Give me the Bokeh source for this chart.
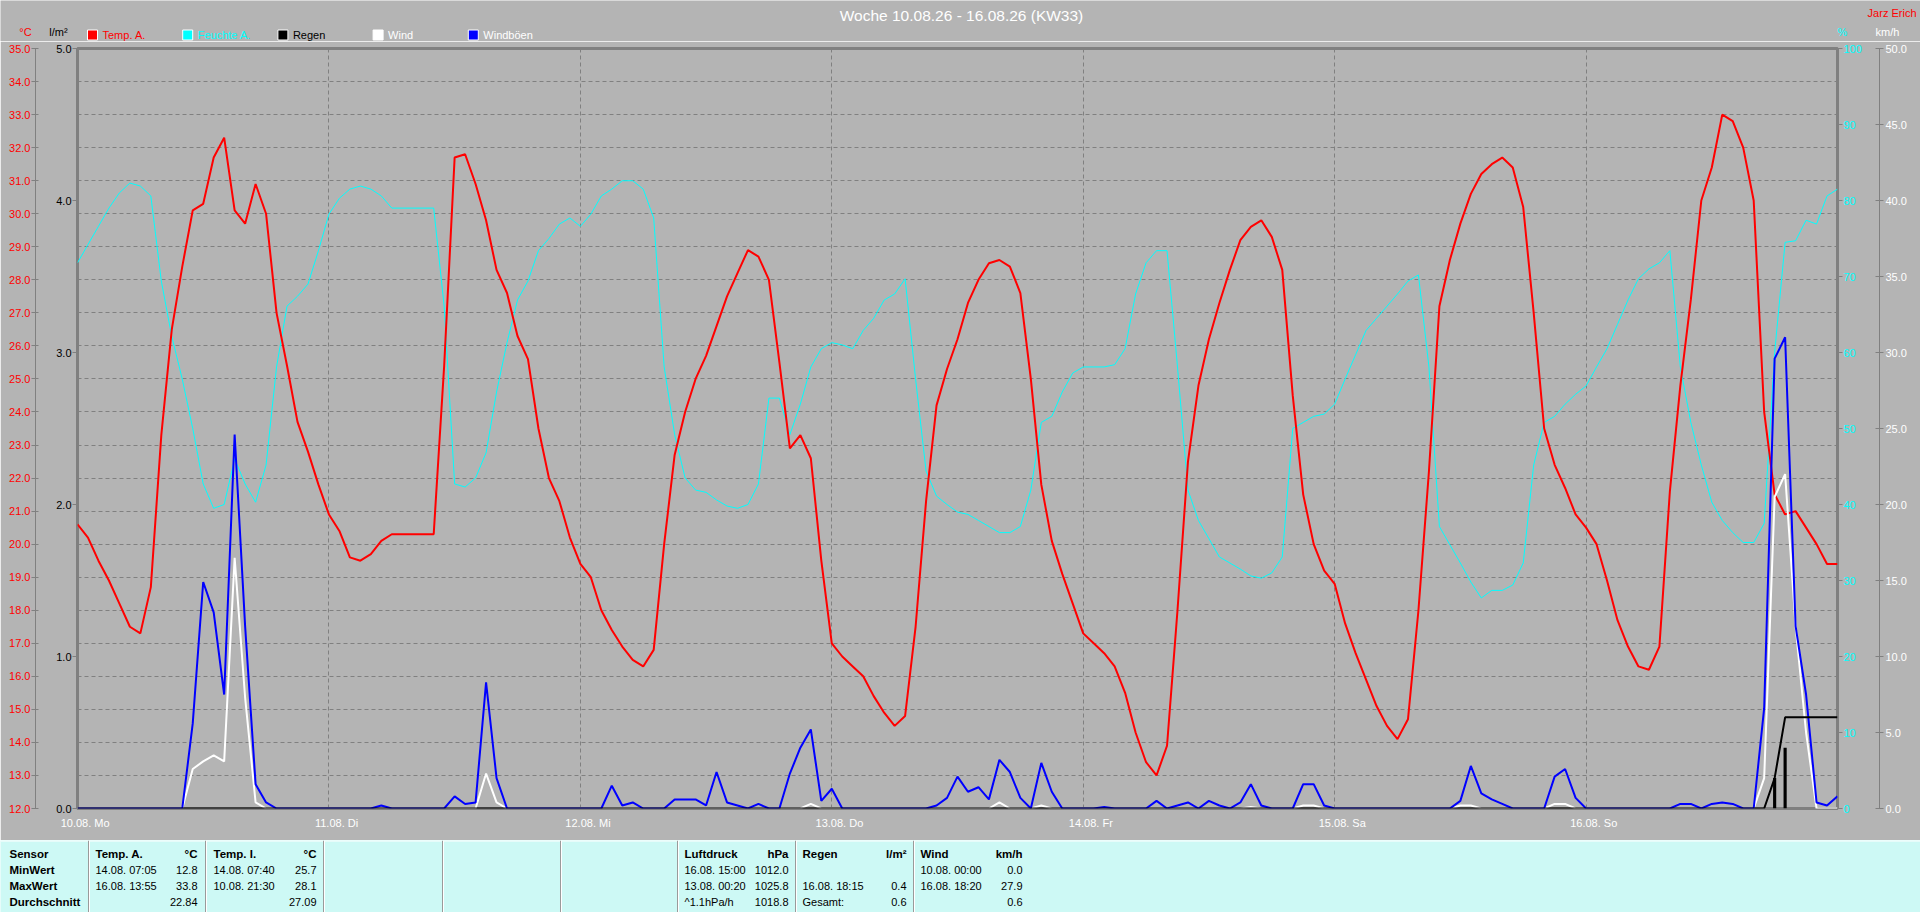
from bokeh.plotting import figure
from bokeh.models import (Range1d, LinearAxis, FixedTicker, PrintfTickFormatter, Grid, ColumnDataSource)
from bokeh.layouts import column
from bokeh.core.properties import value
from bokeh.embed import file_html
from bokeh.resources import INLINE

# ---------------- data ----------------
hours = list(range(169))  # hours since 10.08. 00:00

temp_a = [
    20.6, 20.2, 19.5, 18.9, 18.2, 17.5, 17.3, 18.7, 23.3, 26.5, 28.4, 30.1, 30.3, 31.7, 32.3, 30.1, 29.7, 30.9, 30.0, 27.0, 25.4, 23.7, 22.8, 21.8,
    20.9, 20.4, 19.6, 19.5, 19.7, 20.1, 20.3, 20.3, 20.3, 20.3, 20.3, 25.4, 31.7, 31.8, 30.9, 29.8, 28.3, 27.6, 26.3, 25.6, 23.5, 22.0, 21.3, 20.2,
    19.4, 19.0, 18.0, 17.4, 16.9, 16.5, 16.3, 16.8, 20.0, 22.7, 24.0, 25.0, 25.7, 26.6, 27.5, 28.2, 28.9, 28.7, 28.0, 25.5, 22.9, 23.3, 22.6, 19.5,
    17.0, 16.6, 16.3, 16.0, 15.4, 14.9, 14.5, 14.8, 17.5, 21.3, 24.2, 25.3, 26.2, 27.3, 28.0, 28.5, 28.6, 28.4, 27.6, 25.0, 21.8, 20.1, 19.1, 18.2,
    17.3, 17.0, 16.7, 16.3, 15.5, 14.3, 13.4, 13.0, 13.9, 18.0, 22.5, 24.8, 26.2, 27.3, 28.3, 29.2, 29.6, 29.8, 29.3, 28.3, 24.5, 21.5, 20.0, 19.2,
    18.8, 17.6, 16.7, 15.9, 15.1, 14.5, 14.1, 14.7, 18.0, 22.2, 27.2, 28.6, 29.7, 30.6, 31.2, 31.5, 31.7, 31.4, 30.2, 27.0, 23.5, 22.4, 21.7, 20.9,
    20.5, 20.0, 18.9, 17.7, 16.9, 16.3, 16.2, 16.9, 21.6, 24.8, 27.4, 30.4, 31.4, 33.0, 32.8, 32.0, 30.4, 24.0, 21.5, 20.9, 21.0, 20.5, 20.0, 19.4, 19.4,
]

feuchte_a = [
    71.8, 74.2, 76.6, 79.0, 81.0, 82.3, 81.9, 80.6, 69.4, 62.1, 56.5, 50.0, 42.7, 39.5, 40.0, 46.0, 42.7, 40.3, 45.2, 58.1, 66.1, 67.4, 69.0, 73.4,
    78.2, 80.3, 81.5, 81.9, 81.5, 80.6, 79.0, 79.0, 79.0, 79.0, 79.0, 66.1, 42.7, 42.3, 43.5, 46.8, 54.8, 61.3, 66.9, 69.4, 73.4, 75.0, 76.9, 77.7,
    76.6, 78.2, 80.6, 81.5, 82.6, 82.6, 81.5, 77.7, 58.1, 49.2, 43.5, 41.9, 41.6, 40.6, 39.8, 39.5, 40.0, 42.7, 54.0, 54.0, 49.2, 53.2, 58.1, 60.5,
    61.3, 61.0, 60.5, 62.9, 64.5, 66.9, 67.7, 69.7, 56.5, 44.4, 41.1, 40.0, 39.0, 38.7, 37.9, 37.1, 36.3, 36.3, 37.1, 41.9, 50.8, 51.6, 54.8, 57.3,
    58.1, 58.1, 58.1, 58.4, 60.5, 67.7, 71.8, 73.4, 73.4, 58.1, 41.9, 37.9, 35.5, 33.1, 32.3, 31.5, 30.6, 30.3, 31.0, 33.1, 50.0, 50.8, 51.6, 51.9,
    53.2, 56.5, 59.7, 62.9, 64.5, 66.1, 67.7, 69.4, 70.2, 58.1, 37.1, 34.7, 32.3, 29.8, 27.7, 28.7, 28.7, 29.4, 32.3, 45.2, 50.8, 51.6, 53.2, 54.5,
    55.6, 58.1, 60.5, 63.7, 66.9, 69.7, 71.0, 71.8, 73.4, 58.1, 50.8, 45.2, 40.3, 37.9, 36.3, 35.0, 35.0, 37.5, 60.0, 74.5, 74.7, 77.4, 76.9, 80.6, 81.5,
]

wind = [
    0, 0, 0, 0, 0, 0, 0, 0, 0, 0, 0, 2.6, 3.1, 3.5, 3.1, 16.5, 7.3, 0.4, 0, 0, 0, 0, 0, 0,
    0, 0, 0, 0, 0, 0, 0, 0, 0, 0, 0, 0, 0, 0, 0, 2.3, 0.4, 0, 0, 0, 0, 0, 0, 0,
    0, 0, 0, 0, 0, 0, 0, 0, 0, 0, 0, 0, 0, 0, 0, 0, 0, 0, 0, 0, 0, 0, 0.3, 0,
    0, 0, 0, 0, 0, 0, 0, 0, 0, 0, 0, 0, 0, 0, 0, 0, 0.4, 0, 0, 0, 0.2, 0, 0, 0,
    0, 0, 0, 0, 0, 0, 0, 0, 0, 0, 0, 0, 0, 0, 0, 0, 0.1, 0, 0, 0, 0, 0.2, 0.2, 0,
    0, 0, 0, 0, 0, 0, 0, 0, 0, 0, 0, 0, 0.2, 0.2, 0, 0, 0, 0, 0, 0, 0, 0.3, 0.3, 0,
    0, 0, 0, 0, 0, 0, 0, 0, 0, 0, 0, 0, 0, 0, 0, 0, 0, 2.0, 20.5, 22.0, 12.0, 5.0, 0, 0, 0,
]

windboeen = [
    0, 0, 0, 0, 0, 0, 0, 0, 0, 0, 0, 5.6, 14.9, 12.9, 7.5, 24.6, 12.0, 1.6, 0.4, 0, 0, 0, 0, 0,
    0, 0, 0, 0, 0, 0.2, 0, 0, 0, 0, 0, 0, 0.8, 0.3, 0.4, 8.3, 2.0, 0, 0, 0, 0, 0, 0, 0,
    0, 0, 0, 1.5, 0.2, 0.4, 0, 0, 0, 0.6, 0.6, 0.6, 0.2, 2.4, 0.4, 0.2, 0, 0.3, 0, 0, 2.3, 4.0, 5.2, 0.5,
    1.3, 0, 0, 0, 0, 0, 0, 0, 0, 0, 0.2, 0.7, 2.1, 1.1, 1.4, 0.6, 3.2, 2.4, 0.7, 0, 3.0, 1.1, 0, 0,
    0, 0, 0.1, 0, 0, 0, 0, 0.5, 0, 0.2, 0.4, 0, 0.5, 0.2, 0, 0.4, 1.6, 0.2, 0, 0, 0, 1.6, 1.6, 0.2,
    0, 0, 0, 0, 0, 0, 0, 0, 0, 0, 0, 0, 0.5, 2.8, 1.0, 0.6, 0.3, 0, 0, 0, 0, 2.1, 2.6, 0.7,
    0, 0, 0, 0, 0, 0, 0, 0, 0, 0.3, 0.3, 0, 0.3, 0.4, 0.3, 0, 0, 6.6, 29.6, 31.0, 12.0, 7.5, 0.4, 0.2, 0.8,
]

regen_t = [162, 163]          # rain per interval (l/m²)
regen_mm = [0.2, 0.4]
regen_sum_t = [0, 161, 162, 163, 168]   # accumulated rain (l/m²)
regen_sum = [0.0, 0.0, 0.2, 0.6, 0.6]

day_starts = [0, 24, 48, 72, 96, 120, 144]
day_labels = ["10.08.  Mo", "11.08.  Di", "12.08.  Mi", "13.08.  Do", "14.08.  Fr", "15.08.  Sa", "16.08.  So"]
temp_ticks = list(range(12, 36))
regen_ticks = [0, 1, 2, 3, 4, 5]
feuchte_ticks = [0, 10, 20, 30, 40, 50, 60, 70, 80, 90, 100]
wind_ticks = [0, 5, 10, 15, 20, 25, 30, 35, 40, 45, 50]

legend_names = ["Temp. A.", "Feuchte A.", "Regen", "Wind", "Windböen"]
legend_fill = ["#ff0000", "#00ffff", "#000000", "#ffffff", "#0000ff"]
legend_text = ["#ff0000", "#00ffff", "#000000", "#ffffff", "#ffffff"]

title_text = "Woche 10.08.26 - 16.08.26 (KW33)"
author_text = "Jarz Erich"
unit_texts = ["°C", "l/m²", "%", "km/h"]
unit_colors = ["#ff0000", "#000000", "#00ffff", "#ffffff"]

tab_row_labels = ["Sensor", "MinWert", "MaxWert", "Durchschnitt"]
tab_headers = ["Temp. A.", "Temp. I.", "Luftdruck", "Regen", "Wind"]
tab_units = ["°C", "°C", "hPa", "l/m²", "km/h"]
tab_min_when = ["14.08.  07:05", "14.08.  07:40", "16.08.  15:00", "", "10.08.  00:00"]
tab_min_val = ["12.8", "25.7", "1012.0", "", "0.0"]
tab_max_when = ["16.08.  13:55", "10.08.  21:30", "13.08.  00:20", "16.08.  18:15", "16.08.  18:20"]
tab_max_val = ["33.8", "28.1", "1025.8", "0.4", "27.9"]
tab_avg_when = ["", "", "^1.1hPa/h", "Gesamt:", ""]
tab_avg_val = ["22.84", "27.09", "1018.8", "0.6", "0.6"]

# ---------------- style / layout ----------------
FONT = "Liberation Sans"
BG = "#b4b4b4"
GRID = "#808080"
CYAN_BG = "#cdf9f5"
W = 1920
H_HEAD, H_MAIN, H_TAB = 41, 799, 72
FL, FR = 77, 1837            # frame left / right (px)
B_TOP, B_BOT = 7, 32         # main figure borders (frame height 760)
LEG_Y = 34.5

# ---------------- header (title, units, legend) ----------------
h = figure(width=W, height=H_HEAD, x_range=Range1d(0, W), y_range=Range1d(H_HEAD, 0),
           x_axis_type=None, y_axis_type=None, output_backend="svg", toolbar_location=None,
           min_border=0, frame_align=False, background_fill_color=BG, border_fill_color=BG,
           outline_line_color=None)

h.text(x=[961], y=[15], text=[title_text], text_align="center", text_baseline="middle",
       text_font=value(FONT), text_font_size=value("15.5px"), text_color="#ffffff")
h.text(x=[1916], y=[12], text=[author_text], text_align="right", text_baseline="middle",
       text_font=value(FONT), text_font_size=value("11px"), text_color="#ff0000")
h.text(x=[25, 58, 1842, 1887], y=[31, 31, 31, 31], text=unit_texts, text_align="center",
       text_baseline="middle", text_font=value(FONT), text_font_size=value("11px"), text_color=unit_colors)

leg_x = [92 + 95.2 * i for i in range(len(legend_names))]
h.rect(x=leg_x, y=[LEG_Y] * len(leg_x), width=10, height=10, fill_color=legend_fill,
       line_color="#ffffff", line_width=1)
h.text(x=[x + 10 for x in leg_x], y=[LEG_Y] * len(leg_x), text=legend_names, text_align="left",
       text_baseline="middle", text_font=value(FONT), text_font_size=value("11px"), text_color=legend_text)

# ---------------- main chart ----------------
p = figure(width=W, height=H_MAIN, x_range=Range1d(0, 168), y_range=Range1d(12, 35),
           x_axis_type=None, y_axis_type=None, output_backend="svg", toolbar_location=None,
           min_border_left=FL, min_border_right=W - FR, min_border_top=B_TOP, min_border_bottom=B_BOT,
           frame_align=False, background_fill_color=BG, border_fill_color=BG,
           outline_line_color=GRID, outline_line_width=3)
p.extra_y_ranges = {"rain": Range1d(0, 5), "hum": Range1d(0, 100), "wind": Range1d(0, 50)}

p.add_layout(Grid(dimension=0, ticker=FixedTicker(ticks=day_starts[1:]), grid_line_color=GRID,
                  grid_line_dash="4 3", grid_line_width=1), "center")
p.add_layout(Grid(dimension=1, ticker=FixedTicker(ticks=temp_ticks[1:-1]), grid_line_color=GRID,
                  grid_line_dash="4 3", grid_line_width=1), "center")

lab = dict(major_label_text_font=FONT, major_label_text_font_size="11px", minor_tick_line_color=None)

rain_ax = LinearAxis(y_range_name="rain", ticker=FixedTicker(ticks=regen_ticks),
                     formatter=PrintfTickFormatter(format="%.1f"), axis_line_color=None,
                     major_tick_line_color=GRID, major_tick_in=0, major_tick_out=5,
                     major_label_standoff=1, major_label_text_color="black",
                     axis_label=" ", axis_label_standoff=3, axis_label_text_font_size="11px", **lab)
temp_ax = LinearAxis(ticker=FixedTicker(ticks=temp_ticks), formatter=PrintfTickFormatter(format="%.1f"),
                     axis_line_color=GRID, major_tick_line_color=GRID, major_tick_in=3, major_tick_out=4,
                     major_label_standoff=1, major_label_text_color="#ff0000", **lab)
p.add_layout(rain_ax, "left")
p.add_layout(temp_ax, "left")

hum_ax = LinearAxis(y_range_name="hum", ticker=FixedTicker(ticks=feuchte_ticks),
                    formatter=PrintfTickFormatter(format="%d"), axis_line_color=None,
                    major_tick_line_color=GRID, major_tick_in=0, major_tick_out=5,
                    major_label_standoff=1, major_label_text_color="#00ffff",
                    axis_label=" ", axis_label_standoff=0, axis_label_text_font_size="11px", **lab)
wind_ax = LinearAxis(y_range_name="wind", ticker=FixedTicker(ticks=wind_ticks),
                     formatter=PrintfTickFormatter(format="%.1f"), axis_line_color=GRID,
                     major_tick_line_color=GRID, major_tick_in=4, major_tick_out=4,
                     major_label_standoff=2, major_label_text_color="#ffffff", **lab)
p.add_layout(hum_ax, "right")
p.add_layout(wind_ax, "right")

lbl_shift = 0.875
x_ticks = [d + lbl_shift for d in day_starts]
x_ax = LinearAxis(ticker=FixedTicker(ticks=x_ticks),
                  major_label_overrides={t: s for t, s in zip(x_ticks, day_labels)},
                  axis_line_color=None, major_tick_line_color=None, major_tick_in=0, major_tick_out=0,
                  major_label_standoff=8, major_label_text_color="#ffffff", **lab)
p.add_layout(x_ax, "below")

# series
p.line(hours, feuchte_a, y_range_name="hum", line_color="#00ffff", line_width=1)
p.line(hours, temp_a, line_color="#ff0000", line_width=2)
p.line(hours, wind, y_range_name="wind", line_color="#ffffff", line_width=2)
p.line(hours, windboeen, y_range_name="wind", line_color="#0000ff", line_width=2)
p.vbar(x=regen_t, top=regen_mm, bottom=0, width=0.3, y_range_name="rain", fill_color="#000000", line_color=None)
p.line(regen_sum_t, regen_sum, y_range_name="rain", line_color="#000000", line_width=2)

# ---------------- table ----------------
t = figure(width=W, height=H_TAB, x_range=Range1d(0, W), y_range=Range1d(H_TAB, 0),
           x_axis_type=None, y_axis_type=None, output_backend="svg", toolbar_location=None,
           min_border=0, frame_align=False, background_fill_color=CYAN_BG, border_fill_color=CYAN_BG,
           outline_line_color=None)

sep_x = [88, 205, 323, 442, 560, 677, 795, 913]
col_left = [95, 213, 684, 802, 920]
col_right = [197, 316, 788, 906, 1022]
row_y = [13, 29, 45, 61]

t.segment(x0=[0], y0=[0.5], x1=[W], y1=[0.5], line_color="#ffffff", line_width=1)
t.segment(x0=sep_x, y0=[0] * len(sep_x), x1=sep_x, y1=[H_TAB] * len(sep_x), line_color="#9a9a9a", line_width=1)
t.segment(x0=[x + 1 for x in sep_x], y0=[0] * len(sep_x), x1=[x + 1 for x in sep_x], y1=[H_TAB] * len(sep_x),
          line_color="#ffffff", line_width=1)

bold_l = dict(x=[9] * 4 + col_left, y=row_y + [row_y[0]] * 5, text=tab_row_labels + tab_headers)
bold_r = dict(x=col_right, y=[row_y[0]] * 5, text=tab_units)
norm_l = dict(x=col_left * 3, y=[row_y[1]] * 5 + [row_y[2]] * 5 + [row_y[3]] * 5,
              text=tab_min_when + tab_max_when + tab_avg_when)
norm_r = dict(x=col_right * 3, y=[row_y[1]] * 5 + [row_y[2]] * 5 + [row_y[3]] * 5,
              text=tab_min_val + tab_max_val + tab_avg_val)

for src, align, style, size in [(bold_l, "left", "bold", "11.5px"), (bold_r, "right", "bold", "11.5px"),
                                (norm_l, "left", "normal", "11px"), (norm_r, "right", "normal", "11px")]:
    t.text(x="x", y="y", text="text", source=ColumnDataSource(src), text_align=align,
           text_baseline="middle", text_font=value(FONT), text_font_size=value(size),
           text_font_style=style, text_color="#000000")

layout = column(h, p, t, spacing=0)
open("out.html", "w").write(file_html(layout, INLINE))
